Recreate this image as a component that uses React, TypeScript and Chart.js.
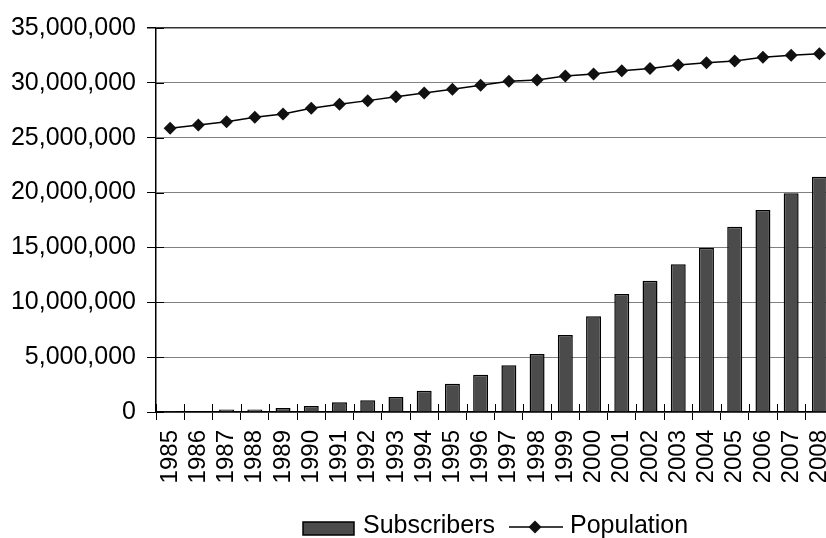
import React, { useEffect, useRef } from "react";
import { Chart, registerables } from "chart.js";

Chart.register(...registerables);

const years = ["1985","1986","1987","1988","1989","1990","1991","1992","1993","1994","1995","1996","1997","1998","1999","2000","2001","2002","2003","2004","2005","2006","2007","2008"];
const subscribers = [10000, 30000, 220000, 220000, 360000, 550000, 880000, 1070000, 1370000, 1940000, 2580000, 3400000, 4260000, 5290000, 7020000, 8720000, 10760000, 11970000, 13460000, 14980000, 16890000, 18410000, 19930000, 21450000];
const population = [25860000, 26160000, 26460000, 26860000, 27170000, 27680000, 28050000, 28380000, 28740000, 29080000, 29410000, 29780000, 30140000, 30260000, 30630000, 30810000, 31110000, 31300000, 31630000, 31840000, 32000000, 32330000, 32520000, 32660000];
const seriesNames = ["Subscribers", "Population"];
const yMin = 0;
const yMax = 35000000;
const yStep = 5000000;

const FONT = "'Liberation Sans', Arial, sans-serif";

const innerTicks = {
  id: "innerTicks",
  afterDraw(chart: any) {
    const ctx = chart.ctx;
    const x = chart.scales.x;
    const y = chart.scales.y;
    const area = chart.chartArea;
    ctx.save();
    ctx.strokeStyle = "#000";
    ctx.lineWidth = 1;
    const n = x.ticks.length;
    const half = n > 1 ? (x.getPixelForValue(1) - x.getPixelForValue(0)) / 2 : 0;
    ctx.beginPath();
    for (let i = 0; i <= n; i++) {
      const px = Math.round(x.getPixelForValue(i) - half) + 0.5;
      ctx.moveTo(px, area.bottom);
      ctx.lineTo(px, area.bottom - 8);
    }
    y.ticks.forEach((t: any) => {
      const py = Math.round(y.getPixelForValue(t.value)) + 0.5;
      ctx.moveTo(area.left, py);
      ctx.lineTo(area.left + 8, py);
    });
    ctx.stroke();
    ctx.restore();
  },
};

const customLegend = {
  id: "customLegend",
  afterDraw(chart: any) {
    const ctx = chart.ctx;
    const ds = chart.data.datasets;
    ctx.save();
    ctx.font = `25px ${FONT}`;
    ctx.fillStyle = "#000";
    ctx.textBaseline = "alphabetic";
    const baseline = 533;
    ctx.fillStyle = ds[0].backgroundColor;
    ctx.fillRect(303, 522, 51, 13);
    ctx.strokeStyle = "#000";
    ctx.lineWidth = 1.5;
    ctx.strokeRect(303, 522, 51, 13);
    ctx.fillStyle = "#000";
    ctx.fillText(ds[0].label, 363, baseline);
    const ly = 527;
    ctx.beginPath();
    ctx.moveTo(509, ly);
    ctx.lineTo(563, ly);
    ctx.lineWidth = 1.5;
    ctx.stroke();
    const cx = 535, r = 6.5;
    ctx.beginPath();
    ctx.moveTo(cx - r, ly);
    ctx.lineTo(cx, ly - r);
    ctx.lineTo(cx + r, ly);
    ctx.lineTo(cx, ly + r);
    ctx.closePath();
    ctx.fillStyle = "#111";
    ctx.fill();
    ctx.fillStyle = "#000";
    ctx.fillText(ds[1].label, 570, baseline);
    ctx.restore();
  },
};

export default function App() {
  const ref = useRef<HTMLCanvasElement>(null);
  useEffect(() => {
    if (!ref.current) return;
    const chart = new Chart(ref.current, {
      type: "bar",
      data: {
        labels: years,
        datasets: [
          {
            type: "bar",
            label: seriesNames[0],
            data: subscribers,
            backgroundColor: "#4b4b4b",
            borderColor: "#000",
            borderWidth: 1.5,
            barPercentage: 0.53,
            categoryPercentage: 1,
            order: 1,
          } as any,
          {
            type: "line",
            label: seriesNames[1],
            data: population,
            borderColor: "#000",
            borderWidth: 1.5,
            backgroundColor: "#111",
            pointStyle: "rectRot",
            pointRadius: 6.5,
            pointBorderWidth: 0,
            pointBackgroundColor: "#111",
            tension: 0,
            order: 0,
          } as any,
        ],
      },
      options: {
        responsive: false,
        animation: false,
        devicePixelRatio: 1,
        layout: { padding: { top: 28, bottom: 56, left: 0, right: 0 } },
        plugins: {
          legend: { display: false },
          tooltip: { enabled: false },
        },
        scales: {
          x: {
            offset: true,
            grid: {
              display: true,
              offset: true,
              drawOnChartArea: false,
              drawTicks: true,
              tickLength: 8,
              tickColor: "#000",
              tickWidth: 1,
            },
            border: { display: true, color: "#000", width: 1.5 },
            ticks: {
              autoSkip: false,
              maxRotation: 90,
              minRotation: 90,
              padding: 10,
              color: "#000",
              font: { family: FONT, size: 24 },
            },
            afterFit(scale: any) {
              scale.height = 70;
              scale.paddingRight = 0;
              scale.paddingLeft = 0;
            },
          },
          y: {
            min: yMin,
            max: yMax,
            grid: {
              color: (c: any) => (c.tick && c.tick.value === yMax ? "#333" : "#808080"),
              lineWidth: (c: any) => (c.tick && c.tick.value === yMax ? 1.5 : 1),
              drawTicks: true,
              tickLength: 9,
              tickColor: "#000",
            },
            border: { display: true, color: "#000", width: 1.5 },
            ticks: {
              stepSize: yStep,
              padding: 11,
              color: "#000",
              font: { family: FONT, size: 25 },
              callback: (v: any) => Number(v).toLocaleString("en-US"),
            },
            afterFit(scale: any) {
              scale.width = 156;
            },
          },
        },
      },
      plugins: [innerTicks, customLegend],
    });
    return () => chart.destroy();
  }, []);

  return (
    <div style={{ position: "fixed", left: 0, top: 0, width: 826, height: 538, overflow: "hidden", background: "#fff" }}>
      <canvas ref={ref} width={840} height={538} style={{ width: 840, height: 538, display: "block" }} />
    </div>
  );
}
